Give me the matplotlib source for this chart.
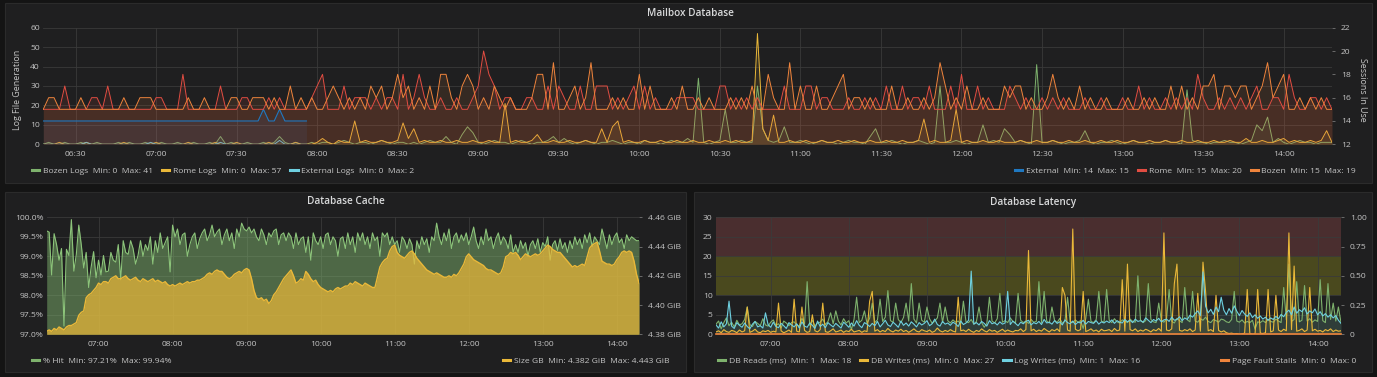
import numpy as np
import matplotlib
matplotlib.use("Agg")
import matplotlib.pyplot as plt
import matplotlib.dates as mdates
from matplotlib.lines import Line2D
from matplotlib.patches import Rectangle
from matplotlib.ticker import FuncFormatter, MultipleLocator

plt.rcParams['font.family'] = ['Open Sans', 'DejaVu Sans']

# samples every 2 minutes, 06:18 -> 14:18
start = np.datetime64('2018-03-14T06:18')
times = start + np.arange(241) * np.timedelta64(2, 'm')

# ---------------- Mailbox Database ----------------
bozen_logs = [
    0, 1, 0, 0, 1, 0, 0, 1, 0, 0, 1, 0, 0, 0, 1, 0, 1, 0, 0, 1, 0, 0, 1, 0, 0, 1, 0, 0, 1, 0,
    0, 1, 0, 4, 0, 1, 0, 0, 1, 0, 0, 1, 0, 1, 4, 1, 0, 1, 0, 0, 1, 0, 1, 1, 0, 1, 2, 1, 0, 1,
    1, 0, 1, 2, 1, 0, 1, 1, 0, 1, 0, 1, 2, 1, 1, 4, 1, 0, 5, 9, 6, 1, 0, 1, 2, 1, 1, 0, 1, 2,
    1, 0, 1, 1, 2, 4, 1, 3, 1, 0, 1, 2, 1, 0, 1, 1, 2, 1, 0, 1, 1, 0, 2, 1, 1, 0, 1, 2, 1, 1,
    3, 1, 34, 1, 0, 1, 2, 18, 1, 1, 2, 1, 1, 30, 8, 2, 1, 2, 9, 1, 1, 2, 1, 0, 1, 2, 1, 1, 0, 1,
    2, 1, 1, 0, 4, 8, 1, 1, 2, 1, 0, 1, 1, 2, 1, 0, 1, 30, 1, 1, 2, 1, 0, 1, 1, 10, 1, 2, 1, 8,
    5, 1, 2, 1, 0, 41, 1, 1, 2, 1, 0, 1, 1, 2, 7, 1, 0, 1, 1, 2, 1, 0, 1, 2, 1, 1, 0, 1, 1, 2,
    1, 1, 0, 28, 2, 1, 1, 0, 1, 1, 2, 1, 1, 0, 1, 2, 10, 7, 14, 1, 3, 1, 0, 1, 2, 1, 1, 0, 1, 1,
    1]
rome_logs = [
    0, 0, 0, 1, 0, 0, 0, 0, 1, 0, 0, 0, 0, 0, 0, 1, 0, 0, 0, 0, 0, 1, 0, 0, 0, 0, 0, 1, 0, 0,
    0, 0, 1, 0, 0, 0, 1, 0, 0, 0, 0, 0, 1, 0, 0, 0, 0, 1, 0, 0, 0, 1, 3, 1, 0, 2, 1, 1, 12, 1,
    2, 1, 1, 2, 1, 1, 2, 11, 3, 8, 1, 2, 1, 1, 2, 1, 1, 2, 1, 1, 2, 1, 1, 2, 1, 1, 21, 1, 2, 1,
    1, 2, 5, 1, 1, 2, 1, 1, 2, 1, 1, 2, 1, 1, 8, 1, 9, 12, 1, 2, 1, 1, 2, 1, 1, 2, 1, 1, 2, 1,
    1, 2, 1, 1, 2, 1, 1, 2, 1, 2, 1, 1, 2, 57, 8, 2, 15, 1, 1, 2, 1, 1, 2, 1, 1, 2, 1, 1, 2, 1,
    1, 2, 1, 1, 2, 1, 1, 2, 1, 1, 2, 1, 1, 2, 13, 1, 2, 1, 1, 2, 18, 1, 2, 1, 1, 2, 1, 1, 2, 1,
    1, 1, 2, 1, 1, 2, 1, 1, 2, 1, 1, 2, 1, 1, 2, 1, 1, 2, 1, 1, 2, 1, 1, 2, 1, 1, 2, 1, 1, 2,
    1, 1, 2, 1, 1, 2, 1, 1, 2, 1, 1, 2, 1, 1, 3, 1, 1, 2, 1, 1, 2, 3, 1, 2, 1, 1, 2, 1, 2, 7,
    1]
external_logs = [
    0, 0, 0, 0, 0, 0, 0, 0, 1, 0, 0, 0, 0, 0, 0, 0, 0, 0, 0, 0, 1, 0, 0, 0, 0,
    0, 0, 0, 0, 0, 0, 0, 0, 1, 0, 0, 0, 0, 0, 0, 0, 0, 0, 0, 2, 0, 0, 0, 0, 0]
external_sessions = [
    14, 14, 14, 14, 14, 14, 14, 14, 14, 14, 14, 14, 14, 14, 14, 14, 14, 14, 14, 14, 14, 14, 14, 14, 14,
    14, 14, 14, 14, 14, 14, 14, 14, 14, 14, 14, 14, 14, 14, 14, 14, 15, 14, 14, 15, 14, 14, 14, 14, 14]
rome_sessions = [
    15, 15, 15, 15, 17, 15, 15, 15, 15, 16, 16, 15, 17, 15, 15, 15, 15, 15, 15, 15, 15, 16, 16, 15, 15, 15, 18, 15, 15, 15,
    15, 15, 15, 17, 15, 15, 15, 16, 16, 15, 15, 15, 16, 15, 16, 15, 15, 15, 15, 15, 16, 17, 18, 15, 15, 15, 17, 15, 16, 16,
    16, 15, 16, 15, 16, 16, 15, 18, 15, 16, 18, 16, 15, 15, 16, 15, 15, 16, 15, 15, 16, 17, 20, 18, 17, 15, 16, 16, 15, 15,
    16, 16, 15, 15, 17, 15, 17, 16, 15, 15, 17, 15, 15, 17, 17, 17, 15, 16, 15, 16, 17, 15, 17, 15, 16, 15, 15, 15, 16, 16,
    16, 16, 15, 15, 15, 15, 17, 17, 15, 16, 15, 16, 15, 16, 15, 15, 15, 15, 17, 15, 15, 15, 17, 17, 15, 16, 16, 15, 15, 15,
    16, 15, 15, 16, 15, 16, 15, 17, 15, 15, 17, 15, 16, 16, 15, 17, 15, 15, 15, 17, 15, 18, 15, 15, 17, 15, 16, 15, 15, 15,
    17, 16, 15, 16, 15, 15, 16, 15, 16, 15, 16, 15, 15, 15, 16, 15, 15, 16, 15, 15, 15, 16, 15, 15, 17, 15, 16, 15, 15, 16,
    15, 16, 15, 16, 15, 18, 16, 15, 15, 16, 15, 16, 15, 16, 15, 16, 17, 15, 15, 16, 16, 15, 18, 16, 15, 15, 16, 16, 15, 16,
    15]
bozen_sessions = [
    15, 16, 16, 15, 15, 15, 15, 16, 15, 15, 15, 15, 15, 15, 15, 16, 15, 15, 16, 16, 16, 15, 15, 15, 15, 15, 15, 16, 15, 15,
    16, 15, 15, 15, 15, 16, 16, 15, 15, 16, 16, 16, 15, 16, 15, 15, 17, 15, 16, 15, 16, 15, 15, 16, 17, 16, 15, 16, 15, 16,
    15, 17, 16, 17, 15, 16, 18, 16, 17, 15, 16, 15, 17, 15, 18, 18, 16, 15, 17, 18, 17, 15, 16, 15, 17, 16, 15, 16, 15, 15,
    15, 16, 18, 18, 15, 19, 15, 15, 16, 17, 15, 16, 19, 15, 15, 15, 16, 15, 16, 15, 15, 18, 15, 17, 15, 15, 15, 16, 15, 17,
    15, 15, 16, 15, 16, 15, 15, 15, 16, 15, 16, 15, 17, 15, 15, 18, 16, 15, 15, 19, 15, 17, 15, 15, 17, 15, 15, 16, 17, 18,
    15, 16, 16, 15, 16, 15, 15, 15, 17, 15, 15, 16, 15, 15, 16, 15, 16, 19, 17, 15, 16, 15, 17, 15, 15, 16, 15, 15, 15, 17,
    16, 17, 17, 15, 16, 15, 15, 16, 18, 16, 15, 16, 15, 17, 15, 16, 15, 15, 16, 15, 15, 15, 16, 15, 15, 16, 15, 16, 15, 15,
    17, 15, 17, 15, 16, 15, 17, 17, 18, 15, 17, 17, 16, 17, 17, 15, 16, 17, 19, 16, 17, 18, 15, 15, 16, 15, 16, 15, 16, 15,
    15]

# ---------------- Database Cache ----------------
hit_pct = [
    99.65, 99.62, 98.52, 99.58, 99.30, 98.90, 99.20, 97.21, 99.18, 99.02, 99.94, 98.62, 99.05, 99.80, 99.30,
    98.70, 99.10, 98.20, 98.72, 99.12, 98.45, 98.90, 98.52, 99.02, 98.60, 98.62, 99.10, 98.90, 98.85, 99.30,
    98.40, 99.40, 99.10, 99.05, 99.40, 99.20, 98.80, 99.02, 99.40, 99.00, 99.30, 99.15, 99.50, 98.80, 99.40,
    99.10, 99.60, 99.20, 99.35, 99.50, 98.60, 99.80, 99.50, 99.70, 99.30, 99.55, 99.60, 99.00, 99.30, 99.50,
    99.60, 99.20, 99.45, 99.60, 99.70, 99.40, 99.55, 99.80, 99.50, 99.62, 99.70, 99.30, 99.55, 99.70, 99.40,
    99.60, 99.20, 99.70, 99.50, 99.85, 99.70, 99.65, 99.75, 99.60, 99.70, 99.50, 99.40, 99.70, 99.55, 99.30,
    99.60, 99.50, 99.65, 99.70, 99.30, 99.55, 99.60, 99.40, 99.60, 99.50, 99.20, 99.60, 99.30, 99.45, 99.50,
    99.10, 99.50, 98.90, 99.60, 99.40, 99.30, 99.50, 99.20, 99.55, 99.60, 99.30, 99.50, 99.40, 99.00, 99.45,
    99.50, 99.20, 99.60, 99.30, 99.50, 99.10, 99.60, 99.40, 99.60, 99.30, 99.50, 99.20, 99.60, 99.40, 99.50,
    99.00, 99.60, 99.50, 99.60, 99.30, 99.50, 99.30, 99.40, 99.10, 99.50, 99.40, 99.20, 99.45, 99.30, 98.80,
    99.40, 99.20, 99.50, 99.30, 99.45, 99.10, 99.50, 99.40, 99.85, 99.50, 99.30, 99.60, 99.40, 99.70, 99.20,
    99.50, 99.60, 99.35, 99.55, 99.40, 99.60, 99.30, 99.50, 99.75, 99.40, 99.20, 99.50, 99.30, 99.70, 99.40,
    99.50, 99.20, 99.45, 99.60, 99.30, 99.50, 99.40, 99.20, 99.55, 99.10, 99.30, 99.10, 99.40, 99.20, 99.35,
    99.00, 99.30, 99.40, 99.20, 99.45, 99.10, 99.35, 99.25, 99.50, 98.90, 99.30, 99.40, 99.15, 99.45, 99.20,
    99.35, 99.10, 99.40, 99.20, 99.50, 99.30, 99.45, 99.20, 99.55, 99.35, 99.60, 99.25, 99.50, 99.40, 99.30,
    99.70, 99.45, 99.20, 99.55, 99.30, 99.50, 99.60, 99.35, 99.45, 99.20, 99.55, 99.40, 99.50, 99.45, 99.40,
    99.40]
size_gb = [
    4.382, 4.383, 4.382, 4.384, 4.383, 4.385, 4.384, 4.383, 4.385, 4.386, 4.386, 4.387, 4.388, 4.393, 4.395,
    4.396, 4.405, 4.407, 4.408, 4.410, 4.412, 4.415, 4.414, 4.416, 4.416, 4.415, 4.418, 4.419, 4.420, 4.418,
    4.418, 4.419, 4.420, 4.418, 4.417, 4.418, 4.419, 4.417, 4.416, 4.418, 4.417, 4.416, 4.417, 4.418, 4.416,
    4.417, 4.416, 4.415, 4.416, 4.414, 4.413, 4.414, 4.413, 4.414, 4.415, 4.414, 4.415, 4.416, 4.415, 4.416,
    4.416, 4.417, 4.417, 4.418, 4.419, 4.421, 4.422, 4.421, 4.423, 4.424, 4.423, 4.423, 4.421, 4.419, 4.418,
    4.419, 4.421, 4.422, 4.423, 4.422, 4.424, 4.425, 4.424, 4.418, 4.410, 4.405, 4.404, 4.405, 4.403, 4.404,
    4.401, 4.403, 4.407, 4.409, 4.412, 4.415, 4.418, 4.420, 4.422, 4.424, 4.420, 4.415, 4.416, 4.418, 4.417,
    4.423, 4.421, 4.418, 4.416, 4.417, 4.414, 4.412, 4.411, 4.410, 4.409, 4.410, 4.409, 4.411, 4.412, 4.411,
    4.412, 4.413, 4.413, 4.415, 4.414, 4.416, 4.415, 4.414, 4.413, 4.415, 4.414, 4.413, 4.412, 4.412, 4.419,
    4.426, 4.429, 4.431, 4.432, 4.437, 4.440, 4.441, 4.436, 4.434, 4.433, 4.432, 4.434, 4.436, 4.437, 4.435,
    4.432, 4.430, 4.428, 4.426, 4.424, 4.423, 4.422, 4.421, 4.422, 4.421, 4.420, 4.419, 4.419, 4.420, 4.419,
    4.421, 4.420, 4.422, 4.425, 4.428, 4.433, 4.435, 4.433, 4.431, 4.430, 4.429, 4.428, 4.427, 4.425, 4.424,
    4.424, 4.423, 4.422, 4.421, 4.422, 4.426, 4.433, 4.434, 4.436, 4.435, 4.436, 4.434, 4.431, 4.433, 4.435,
    4.434, 4.433, 4.434, 4.435, 4.434, 4.435, 4.437, 4.439, 4.441, 4.440, 4.438, 4.437, 4.436, 4.436, 4.434,
    4.432, 4.430, 4.428, 4.426, 4.427, 4.426, 4.427, 4.428, 4.427, 4.433, 4.439, 4.441, 4.442, 4.443, 4.437,
    4.430, 4.429, 4.428, 4.428, 4.427, 4.428, 4.431, 4.433, 4.436, 4.437, 4.436, 4.437, 4.436, 4.430, 4.421,
    4.415]

# ---------------- Database Latency ----------------
db_reads = [
    2.6, 3.4, 1.4, 3.0, 4.2, 2.2, 3.1, 1.9, 3.6, 2.4, 2.7, 3.8, 7.0, 2.5, 2.0, 3.3, 2.8, 2.2, 4.0, 2.4, 2.1, 3.1, 3.7, 2.3, 2.7, 1.6, 3.4, 2.9, 2.2, 3.0,
    3.2, 2.4, 2.1, 4.1, 2.6, 13.5, 2.3, 3.6, 2.1, 2.9, 3.1, 3.9, 2.5, 3.3, 5.5, 2.7, 6.0, 3.4, 2.4, 4.0, 2.9, 3.5, 1.2, 3.8, 9.5, 3.0, 3.6, 6.0, 2.8, 4.1,
    8.0, 3.0, 3.7, 9.0, 3.3, 4.4, 11.2, 3.5, 3.1, 8.0, 3.8, 3.0, 4.3, 8.0, 3.4, 13.0, 3.9, 2.9, 8.0, 3.6, 3.1, 7.0, 4.0, 2.8, 3.4, 4.2, 8.0, 3.0, 7.0, 3.5,
    2.9, 3.7, 3.1, 3.4, 2.7, 8.5, 3.2, 3.0, 3.8, 2.6, 3.3, 7.0, 3.0, 1.8, 2.8, 9.5, 3.4, 2.9, 4.0, 10.5, 3.1, 3.5, 3.0, 4.2, 3.3, 2.9, 10.5, 3.6, 3.0, 3.4,
    2.8, 3.8, 3.1, 3.3, 13.5, 3.0, 11.0, 3.4, 2.9, 7.0, 3.6, 3.0, 4.1, 2.8, 3.4, 9.5, 3.2, 3.0, 3.7, 3.1, 3.5, 1.5, 4.0, 9.0, 3.3, 3.0, 3.8, 11.0, 3.4, 3.1,
    11.5, 3.6, 3.0, 4.0, 3.2, 2.9, 3.7, 3.4, 3.0, 3.9, 3.3, 3.1, 15.0, 3.7, 3.0, 3.5, 13.0, 3.8, 3.2, 3.0, 8.0, 3.6, 3.1, 3.9, 11.5, 3.3, 2.9, 4.1, 3.5, 3.0,
    12.0, 3.7, 3.2, 11.0, 3.4, 3.1, 4.0, 3.6, 4.4, 3.3, 3.0, 3.8, 3.5, 3.1, 3.9, 3.7, 3.2, 3.0, 3.8, 11.0, 3.4, 3.1, 3.7, 2.9, 3.3, 3.0, 3.6, 1.3, 3.2, 3.0,
    3.5, 3.0, 3.8, 3.3, 3.1, 3.9, 3.4, 3.0, 12.0, 3.7, 18.0, 3.3, 3.8, 13.5, 3.2, 3.6, 12.5, 3.4, 4.0, 3.1, 3.7, 3.3, 14.0, 3.5, 3.0, 13.0, 3.8, 8.0, 3.4, 7.0,
    3.0]
db_writes = [
    0.6, 0.9, 0.4, 1.2, 0.7, 0.5, 1.0, 0.8, 0.4, 1.1, 0.6, 0.9, 7.0, 0.5, 0.8, 1.3, 0.6, 0.4, 0.9, 0.7, 1.0, 0.5, 0.8, 0.6, 8.0, 0.9, 0.4, 0.7, 1.1, 0.5,
    9.0, 0.8, 0.6, 7.0, 1.0, 0.5, 0.7, 5.0, 0.9, 0.6, 1.2, 8.0, 0.7, 0.5, 0.9, 1.4, 0.6, 0.8, 1.1, 0.5, 0.9, 0.7, 1.3, 0.6, 0.8, 1.0, 0.5, 0.9, 0.7, 8.5,
    11.0, 0.8, 1.2, 0.6, 1.0, 0.7, 1.5, 0.9, 0.6, 1.1, 0.8, 1.3, 0.7, 1.0, 0.5, 0.9, 1.4, 0.8, 0.6, 1.2, 0.9, 0.7, 1.1, 0.5, 0.8, 1.6, 0.9, 0.6, 1.0, 0.7,
    1.2, 0.8, 0.6, 9.5, 0.9, 1.1, 0.7, 1.3, 0.8, 0.5, 1.0, 0.7, 1.4, 0.9, 0.6, 1.2, 0.8, 1.0, 0.5, 0.9, 1.3, 0.7, 1.1, 0.8, 0.6, 1.0, 0.9, 1.4, 0.7, 1.2,
    21.5, 0.9, 1.3, 0.7, 1.1, 0.8, 1.5, 1.0, 0.6, 1.2, 0.9, 1.4, 0.7, 12.0, 10.0, 1.1, 0.8, 27.0, 1.3, 0.9, 1.2, 11.0, 0.7, 1.0, 1.4, 0.8, 1.1, 0.6, 1.3, 0.9,
    1.0, 1.2, 0.7, 1.5, 0.9, 1.1, 14.0, 0.8, 18.0, 1.2, 0.9, 1.4, 0.7, 1.1, 0.8, 1.3, 1.0, 0.6, 1.2, 0.9, 1.5, 0.8, 26.0, 1.1, 0.9, 1.4, 13.0, 18.0, 1.0, 0.8,
    1.2, 0.9, 1.4, 0.7, 1.1, 10.5, 0.8, 18.5, 11.0, 0.9, 1.2, 0.7, 10.0, 1.0, 0.6, 0.9, 0.4, 0.2, 0.3, 0.1, 0.2, 0.0, 0.1, 0.3, 11.5, 0.2, 0.0, 0.1, 11.5, 0.3,
    0.2, 0.4, 11.5, 0.6, 0.9, 10.0, 1.1, 0.7, 1.3, 0.9, 26.0, 1.2, 17.5, 0.8, 1.0, 1.4, 0.7, 1.1, 12.0, 0.9, 1.3, 0.8, 1.0, 0.6, 1.2, 0.9, 1.4, 0.7, 1.1, 0.8,
    0.9]
log_writes = [
    2.4, 1.6, 3.2, 1.9, 2.7, 8.5, 2.1, 1.5, 3.0, 2.3, 1.8, 2.9, 2.0, 1.4, 2.6, 3.3, 1.9, 2.2, 1.6, 5.5, 2.5, 1.8, 3.1, 2.0, 1.7, 2.8, 2.2, 1.5, 3.0, 2.4,
    1.9, 2.7, 1.6, 3.2, 2.1, 1.8, 2.9, 2.3, 1.5, 3.4, 2.0, 2.6, 1.7, 3.0, 2.4, 1.9, 2.8, 2.2, 1.6, 3.1, 2.5, 1.8, 2.9, 2.1, 3.5, 2.3, 1.7, 3.0, 2.6, 2.0,
    2.8, 2.2, 3.3, 1.9, 2.7, 3.6, 2.4, 2.0, 3.1, 2.5, 1.8, 3.4, 2.3, 2.9, 2.1, 3.2, 2.6, 1.9, 3.0, 2.4, 2.8, 3.5, 2.2, 2.7, 3.9, 2.5, 2.1, 3.3, 2.6, 2.9,
    2.3, 3.1, 2.7, 2.0, 3.4, 2.5, 2.9, 3.6, 16.2, 2.6, 3.0, 2.4, 3.3, 2.8, 2.1, 3.5, 2.7, 3.0, 2.4, 3.2, 2.6, 2.9, 11.0, 2.5, 3.4, 2.8, 2.2, 3.1, 2.7, 3.3,
    3.6, 2.4, 3.0, 2.7, 3.3, 2.5, 3.8, 2.9, 3.1, 2.6, 3.5, 2.8, 3.2, 2.4, 3.7, 3.0, 2.7, 3.4, 2.5, 3.1, 2.9, 3.6, 2.6, 3.3, 3.0, 2.8, 3.5, 2.6, 3.2, 2.9,
    3.4, 3.0, 3.7, 2.8, 3.5, 3.1, 2.9, 3.8, 3.2, 3.6, 3.0, 3.9, 3.3, 3.5, 3.1, 4.2, 3.6, 3.0, 3.8, 3.4, 4.1, 3.2, 3.7, 3.9, 3.3, 4.4, 3.6, 3.8, 4.5, 3.5,
    4.2, 3.8, 4.9, 4.4, 5.3, 6.0, 4.8, 16.0, 7.2, 5.5, 6.4, 5.1, 7.0, 5.8, 9.5, 6.2, 5.0, 6.6, 5.4, 7.3, 5.9, 4.8, 6.1, 5.2, 4.6, 5.5, 4.3, 5.0, 4.1, 4.7,
    3.9, 4.4, 3.6, 4.2, 3.8, 4.6, 4.0, 5.1, 4.5, 5.6, 6.2, 5.0, 7.0, 5.4, 6.3, 5.8, 6.8, 5.2, 6.0, 5.5, 6.5, 5.0, 5.8, 4.7, 5.3, 4.4, 5.0, 4.2, 4.8, 3.6,
    2.8]
page_fault_stalls = [0.0] * 241

GREEN, YELLOW, CYAN = '#7EB26D', '#EAB839', '#6ED0E0'
RED, ORANGE, BLUE = '#E24D42', '#EF843C', '#1F78C1'
BG, PANEL, BORDER = '#141414', '#1f1f20', '#2b2b2b'
GRID, TXT, TITLE = '#3a3a3a', '#c4c4c4', '#d8d9da'
FS = 6.1

W, H = 1377, 377
fig = plt.figure(figsize=(W / 100, H / 100), dpi=100, facecolor=BG)


def box(x0, y0, x1, y1):
    return [x0 / W, 1 - y1 / H, (x1 - x0) / W, (y1 - y0) / H]


def panel(x0, y0, x1, y1, title, cx):
    r = Rectangle((x0 / W, 1 - y1 / H), (x1 - x0) / W, (y1 - y0) / H, transform=fig.transFigure,
                  facecolor=PANEL, edgecolor=BORDER, lw=0.8, zorder=-5)
    fig.add_artist(r)
    fig.text(cx / W, 1 - (y0 + 10) / H, title, ha='center', va='center', color=TITLE,
             fontsize=7.2, fontweight='semibold')


def style(ax, ax2, major):
    ax.set_facecolor('none')
    for a in (ax, ax2):
        for s in a.spines.values():
            s.set_visible(False)
    ax.set_axisbelow(True)
    ax.grid(True, color=GRID, lw=0.6)
    ax.tick_params(axis='both', colors=TXT, labelsize=FS, length=0)
    ax.tick_params(axis='y', pad=2.5)
    ax.tick_params(axis='x', pad=4.5)
    ax2.tick_params(axis='y', colors=TXT, labelsize=FS, length=2.5, width=0.6, pad=4, color='#777777')
    ax.xaxis.set_major_locator(major)
    ax.xaxis.set_major_formatter(mdates.DateFormatter('%H:%M'))
    ax.set_xlim(times[0], times[-1])


def label(name, vals, fmt):
    return f"{name}  Min: {fmt(min(vals))}  Max: {fmt(max(vals))}"


def legend(items, anchor, loc):
    handles = [Line2D([], [], color=c, lw=2.2) for c, _ in items]
    fig.legend(handles, [t for _, t in items], loc=loc, bbox_to_anchor=(anchor[0] / W, 1 - anchor[1] / H),
               ncol=len(items), frameon=False, fontsize=FS, labelcolor=TXT, handlelength=0.85,
               handletextpad=0.4, columnspacing=1.1, borderaxespad=0, borderpad=0)


integer = lambda v: f"{v:.0f}"

# ---------- panel 1: Mailbox Database ----------
panel(5, 3, 1372, 183, 'Mailbox Database', 690)
ax = fig.add_axes(box(43.3, 27.7, 1332, 144.3))
ax2 = ax.twinx()
style(ax, ax2, mdates.MinuteLocator(byminute=[0, 30]))
ax.set_ylim(0, 60)
ax.yaxis.set_major_locator(MultipleLocator(10))
ax2.set_ylim(12, 22)
ax2.yaxis.set_major_locator(MultipleLocator(2))

for vals, col in [(bozen_logs, GREEN), (rome_logs, YELLOW)]:
    ax.fill_between(times, vals, 0, color=col, alpha=0.1, lw=0)
    ax.plot(times, vals, color=col, lw=0.7)
ax.plot(times[:len(external_logs)], external_logs, color=CYAN, lw=0.7)

ext_t = times[:len(external_sessions)]
ax2.fill_between(ext_t, external_sessions, 12, color=BLUE, alpha=0.12, lw=0)
ax2.plot(ext_t, external_sessions, color=BLUE, lw=0.8)
for vals, col in [(rome_sessions, RED), (bozen_sessions, ORANGE)]:
    ax2.fill_between(times, vals, 12, color=col, alpha=0.11, lw=0)
    ax2.plot(times, vals, color=col, lw=0.7)

ax.set_ylabel('Log File Generation', color=TXT, fontsize=6.4)
ax.yaxis.set_label_coords(-0.0169, 0.47)
ax2.set_ylabel('Sessions In Use', color=TXT, fontsize=6.4, rotation=270)
ax2.yaxis.set_label_coords(1.0274, 0.47)

legend([(GREEN, label('Bozen Logs', bozen_logs, integer)),
        (YELLOW, label('Rome Logs', rome_logs, integer)),
        (CYAN, label('External Logs', external_logs, integer))], (32, 171), 'center left')
legend([(BLUE, label('External', external_sessions, integer)),
        (RED, label('Rome', rome_sessions, integer)),
        (ORANGE, label('Bozen', bozen_sessions, integer))], (1356, 171), 'center right')

# ---------- panel 2: Database Cache ----------
panel(5, 192, 686, 372, 'Database Cache', 346)
ax = fig.add_axes(box(46.7, 217.3, 639, 334.3))
ax2 = ax.twinx()
style(ax, ax2, mdates.HourLocator())
ax.set_ylim(97.0, 100.0)
ax.yaxis.set_major_locator(MultipleLocator(0.5))
ax.yaxis.set_major_formatter(FuncFormatter(lambda v, p: f"{v:.1f}%"))
ax2.set_ylim(4.38, 4.46)
ax2.set_yticks([4.38, 4.40, 4.42, 4.44, 4.46])
ax2.yaxis.set_major_formatter(FuncFormatter(lambda v, p: f"{v:.2f} GiB"))

ax.fill_between(times, hit_pct, 97.0, color=GREEN, alpha=0.5, lw=0)
ax.plot(times, hit_pct, color='#8cc47a', lw=0.8)
ax2.fill_between(times, size_gb, 4.38, color=YELLOW, alpha=0.72, lw=0)
ax2.plot(times, size_gb, color=YELLOW, lw=1.0)

legend([(GREEN, label('% Hit', hit_pct, lambda v: f"{v:.2f}%"))], (32, 361), 'center left')
legend([(YELLOW, label('Size GB', size_gb, lambda v: f"{v:.3f} GiB"))], (669, 361), 'center right')

# ---------- panel 3: Database Latency ----------
panel(694, 192, 1372, 372, 'Database Latency', 1033)
ax = fig.add_axes(box(716, 217.3, 1341, 334.3))
ax2 = ax.twinx()
style(ax, ax2, mdates.HourLocator())
ax.set_ylim(0, 30)
ax.yaxis.set_major_locator(MultipleLocator(5))
ax2.set_ylim(0, 1)
ax2.yaxis.set_major_locator(MultipleLocator(0.25))
ax2.yaxis.set_major_formatter(FuncFormatter(lambda v, p: '0' if v == 0 else f"{v:.2f}"))
ax.axhspan(20, 30, facecolor='#4a2e2f', lw=0, zorder=0.1)
ax.axhspan(10, 20, facecolor='#4a491e', lw=0, zorder=0.1)

for vals, col in [(db_reads, GREEN), (db_writes, YELLOW), (log_writes, CYAN)]:
    ax.fill_between(times, vals, 0, color=col, alpha=0.1, lw=0)
    ax.plot(times, vals, color=col, lw=0.8)
ax2.plot(times, page_fault_stalls, color=ORANGE, lw=1.2, clip_on=False)

legend([(GREEN, label('DB Reads (ms)', db_reads, integer)),
        (YELLOW, label('DB Writes (ms)', db_writes, integer)),
        (CYAN, label('Log Writes (ms)', log_writes, integer))], (718, 361), 'center left')
legend([(ORANGE, label('Page Fault Stalls', page_fault_stalls, integer))], (1356, 361), 'center right')

fig.savefig('out.png', dpi=100, facecolor=BG)
